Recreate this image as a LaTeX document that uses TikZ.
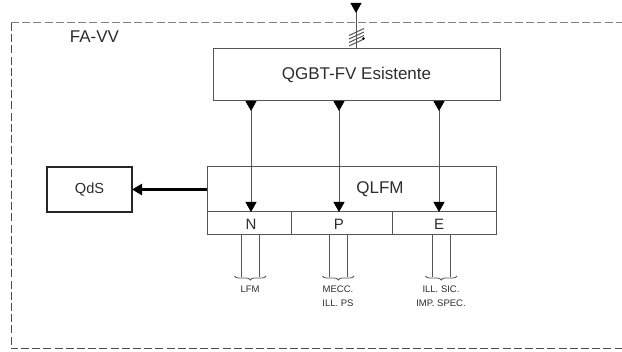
\documentclass[tikz,border=0pt]{standalone}
\usepackage{fontspec}
\setmainfont{Liberation Sans}
\usepackage{xcolor}
\usetikzlibrary{arrows.meta,decorations.pathreplacing,positioning}
\definecolor{qline}{RGB}{85,85,85}
\definecolor{qtext}{RGB}{45,45,45}
\tikzset{
  qbox/.style={rectangle, draw=qline, line width=1pt, inner sep=0pt, outer sep=0pt, text=qtext, align=center},
  qcell/.style={qbox, minimum height=23pt},
  qdsbox/.style={qbox, draw=black!85, line width=1.8pt, minimum width=85pt, minimum height=45pt, font=\fontsize{14.6}{17}\selectfont},
  qlabel/.style={inner sep=0pt, text=qtext, font=\fontsize{17}{19}\selectfont},
  qletter/.style={inner sep=0pt, text=qtext, font=\fontsize{15}{16}\selectfont},
  qsmall/.style={inner sep=0pt, text=qtext, align=center, font=\fontsize{9.5}{14}\selectfont},
  qwire/.style={draw=qline, line width=0.9pt},
  qfeed/.style={{Triangle[reversed,length=10pt,width=11pt,black]}-{Triangle[length=10pt,width=11pt,black]}, draw=qline, line width=1pt},
  qsupply/.style={{Triangle[reversed,length=10pt,width=11pt,black]}-, draw=qline, line width=1pt},
  qout/.style={-{Triangle[length=10pt,width=11pt]}, draw=black, line width=2.6pt},
  qbrace/.style={draw=qline, line width=0.8pt, decorate, decoration={brace,amplitude=4pt,mirror}},
  qborder/.style={line width=1pt, dash pattern=on 8pt off 3.2pt}
}

\begin{document}
\begin{tikzpicture}[x=1pt,y=-1pt]
\useasboundingbox (0,0) rectangle (622,352);
\coordinate (topleft) at (11,23);
\coordinate (topright) at (622,23);
\coordinate (botleft) at (11,349);
\coordinate (botright) at (622,349);
\draw[qborder, draw=black!50] (topleft) -- (topright);
\draw[qborder, draw=black!70] (topleft) -- (botleft) -- (botright);
\node[qlabel] (fa) at (94.5,37) {FA-VV};
\node[qbox, minimum width=287pt, minimum height=52pt, font=\fontsize{17}{19}\selectfont] (qgbt) at (356.5,75) {QGBT-FV Esistente};
\node[qbox, minimum width=289pt, minimum height=45pt] (qlfm) at (351.5,189.5) {};
\node[qlabel] (qlfmtext) at (380,189) {QLFM};
\node[qdsbox] (qds) at (89.5,189.5) {QdS};
\node[qcell, minimum width=84pt] (celln) at (249,223.5) {};
\node[qcell, minimum width=101pt] (cellp) at (341.5,223.5) {};
\node[qcell, minimum width=104pt] (celle) at (444,223.5) {};
\node[qletter] (letn) at (251,224) {N};
\node[qletter] (letp) at (339,224) {P};
\node[qletter] (lete) at (439,224) {E};
\coordinate (supply) at (356,3);
\draw[qsupply] (supply) -- (supply |- qgbt.north);
\foreach \ya in {32,35.5,39,42.5} {
  \draw[draw=qline, line width=1pt] (349,\ya+3.5) -- (364,\ya-3.5);
}
\fill[black] (363.5,38.5) circle (1.3pt);
\draw[qfeed] (letn |- qgbt.south) -- (letn |- qlfm.south);
\draw[qfeed] (letp |- qgbt.south) -- (letp |- qlfm.south);
\draw[qfeed] (lete |- qgbt.south) -- (lete |- qlfm.south);
\draw[qout] (qlfm) -- (qds);
\foreach \cname/\xa/\xb/\xl/\xr in {n/241/259/234.5/266, p/329/347/322.5/354, e/432/450/425.5/457} {
  \coordinate (\cname wa) at (\xa,277);
  \coordinate (\cname wb) at (\xb,277);
  \coordinate (\cname bl) at (\xl,276);
  \coordinate (\cname br) at (\xr,276);
  \draw[qwire] (\cname wa |- cell\cname.south) -- (\cname wa);
  \draw[qwire] (\cname wb |- cell\cname.south) -- (\cname wb);
  \draw[qbrace] (\cname bl) -- (\cname br);
}
\node[qsmall] (lfmtext) at (250,289.5) {LFM};
\node[qsmall, anchor=north] (mecctext) at (338,286) {MECC.\\ILL. PS};
\node[qsmall, anchor=north] (illtext) at (441,286) {ILL. SIC.\\IMP. SPEC.};
\end{tikzpicture}
\end{document}
